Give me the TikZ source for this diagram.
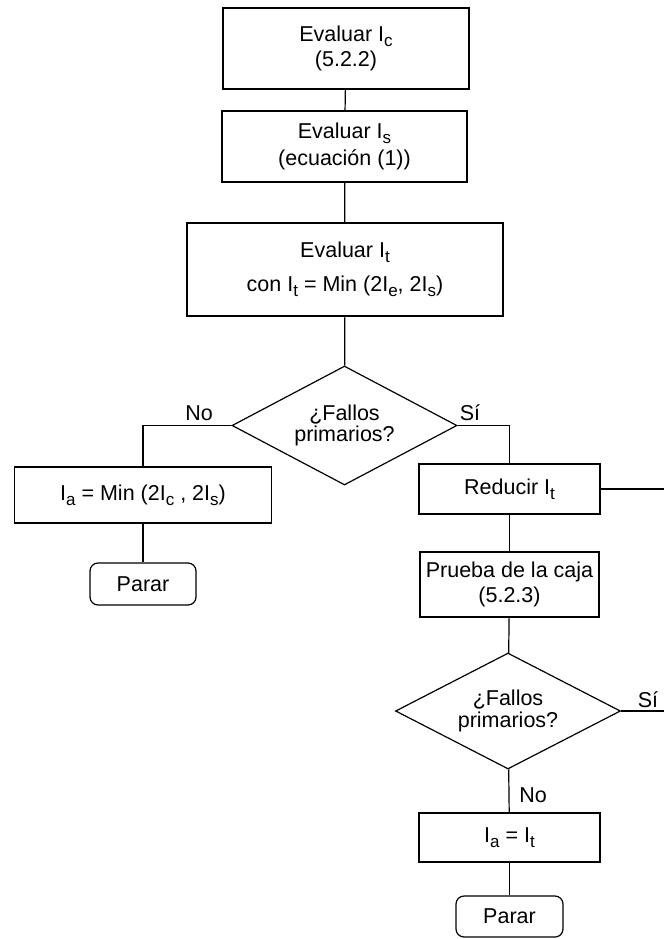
\documentclass[tikz,border=0pt]{standalone}
\usepackage{fontspec}
\setmainfont{Liberation Sans}
\usetikzlibrary{shapes.geometric}
\newcommand\sbs[1]{\raisebox{-0.22em}{\fontsize{17}{20}\selectfont #1}}
\begin{document}
\begin{tikzpicture}[x=1pt,y=-1pt,
  every node/.style={font=\fontsize{21.5}{25.8}\selectfont, inner sep=0pt},
  box/.style={draw, line width=1.2pt, rectangle, align=center},
  stopbox/.style={draw, line width=1.2pt, rectangle, rounded corners=8pt, align=center},
  decision/.style={draw, line width=1.2pt, diamond, aspect=1.9, align=center},
  conn/.style={line width=1.2pt},
  lbl/.style={}]
\useasboundingbox (0,0) rectangle (664,939);
\node[box, minimum width=246pt, minimum height=81pt] (b1) at (346,48.5) {Evaluar I\sbs{c}\\[-1pt](5.2.2)};
\node[box, minimum width=245pt, minimum height=71pt] (b2) at (344.5,146.5) {Evaluar I\sbs{s}\\[1pt](ecuación (1))};
\node[box, minimum width=316pt, minimum height=93pt] (b3) at (345,269.5) {Evaluar I\sbs{t}\\[8pt]con I\sbs{t} = Min (2I\sbs{e}, 2I\sbs{s})};
\node[decision, minimum width=225pt, minimum height=119pt] (d1) at (344.5,425.5) {¿Fallos\\[-4pt]primarios?};
\node[box, minimum width=257pt, minimum height=56pt] (ia1) at (143,495) {I\sbs{a} = Min (2I\sbs{c} , 2I\sbs{s})};
\node[stopbox, minimum width=106pt, minimum height=42pt] (par1) at (143,584) {Parar};
\node[box, minimum width=181pt, minimum height=50pt] (red) at (509.5,489) {Reducir I\sbs{t}};
\node[box, minimum width=179pt, minimum height=65pt] (pru) at (509.5,584.5) {Prueba de la caja\\[0pt](5.2.3)};
\node[decision, minimum width=225pt, minimum height=116pt] (d2) at (508,711) {¿Fallos\\[-4pt]primarios?};
\node[box, minimum width=181pt, minimum height=49pt] (ia2) at (509.5,837.5) {I\sbs{a} = I\sbs{t}};
\node[stopbox, minimum width=107pt, minimum height=41pt] (par2) at (509.5,916.5) {Parar};
\node[lbl] (lno1) at (199,413) {No};
\node[lbl] (lsi1) at (470,413) {Sí};
\node[lbl] (lsi2) at (648,700) {Sí};
\node[lbl] (lno2) at (533,795) {No};
\coordinate (e1) at (664,489);
\coordinate (e2) at (664,711);
\draw[conn] (b1) -- (b2);
\draw[conn] (b2) -- (b3);
\draw[conn] (b3) -- (d1);
\draw[conn] (d1.west) -| (ia1.north);
\draw[conn] (ia1) -- (par1);
\draw[conn] (d1.east) -| (red.north);
\draw[conn] (red.east) -- (e1);
\draw[conn] (red) -- (pru);
\draw[conn] (pru) -- (d2);
\draw[conn] (d2.east) -- (e2);
\draw[conn] (d2) -- (ia2);
\draw[conn] (ia2) -- (par2);
\end{tikzpicture}
\end{document}
